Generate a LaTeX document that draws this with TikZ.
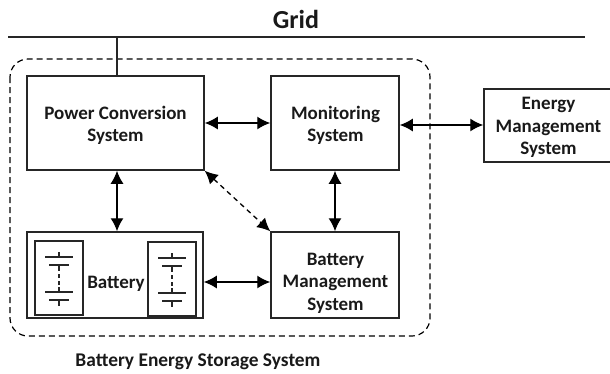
\documentclass[tikz,border=0pt]{standalone}
\usepackage{fontspec}
\setmainfont{Carlito}
\usetikzlibrary{arrows.meta}
\tikzset{
  x=1pt,y=-1pt,
  lbl/.style={font=\fontsize{19}{22.5}\selectfont\bfseries,align=center,inner sep=0pt,text=black!90},
  block/.style={draw=black!85,line width=1.5pt,minimum width=0pt,inner sep=0pt},
  link/.style={line width=1.3pt,{Latex[length=13pt,width=13pt]}-{Latex[length=13pt,width=13pt]}},
  cell/.style={line width=1.1pt,black!85},
}
\newcommand{\cellstack}[2]{%
  \begin{scope}[shift={(#1,#2)}]
    \draw[cell] (-14,16)--(14,16) (-10,24)--(10,24) (0,11)--(0,16) (0,24)--(0,30);
    \draw[cell,dash pattern=on 4pt off 3pt] (0,33)--(0,45);
    \draw[cell] (-14,51)--(14,51) (-10,59)--(10,59) (0,46)--(0,51) (0,59)--(0,65);
  \end{scope}}
\begin{document}
\begin{tikzpicture}
\useasboundingbox (0,0) rectangle (610,373);
\node[lbl,font=\fontsize{26}{30}\selectfont\bfseries] (grid) at (296,19.5) {Grid};
\coordinate (gl) at (8,37); \coordinate (gr) at (585,37); \coordinate (gt) at (117,37);
\draw[line width=1.5pt,black!85] (gl)--(gr);
\draw[rounded corners=18pt,line width=1.2pt,dash pattern=on 6pt off 4pt] (10,59) rectangle (430,336);
\node[block,minimum width=177pt,minimum height=94pt] (pcs) at (115.5,123) {};
\node[lbl] at (115.5,125.5) {Power Conversion\\System};
\node[block,minimum width=128pt,minimum height=94pt] (mon) at (335,123) {};
\node[lbl] at (335.5,125.5) {Monitoring\\System};
\begin{scope}
\clip (470,80) rectangle (610,170);
\node[block,minimum width=134pt,minimum height=73pt] (ems) at (551,125.5) {};
\end{scope}
\node[lbl] at (548.5,127.5) {Energy\\Management\\System};
\node[block,minimum width=176pt,minimum height=86pt] (bat) at (115,275) {};
\node[lbl] (batl) at (116,283.5) {Battery};
\node[block,line width=1.2pt,minimum width=48pt,minimum height=74pt] (c1) at (59,278) {};
\node[block,line width=1.2pt,minimum width=48pt,minimum height=74pt] (c2) at (172,279) {};
\cellstack{59}{241}
\cellstack{172}{242}
\node[block,minimum width=128pt,minimum height=86pt] (bms) at (335,275) {};
\node[lbl] at (335.5,283) {Battery\\Management\\System};
\node[lbl,font=\fontsize{19.4}{23}\selectfont\bfseries] (cap) at (198,362) {Battery Energy Storage System};
\draw[line width=1.2pt,black!85] (gt)--(pcs.north -| gt);
\draw[link] (pcs.east)--(mon.west);
\draw[link] (mon.east |- 0,125)--(ems.west |- 0,125);
\draw[link] (pcs.south -| gt)--(bat.north -| gt);
\draw[link] (mon.south)--(bms.north);
\draw[link] (bat.east |- 0,282)--(bms.west |- 0,282);
\draw[link,dash pattern=on 5pt off 4pt] (pcs.south east)--(bms.north west);
\end{tikzpicture}
\end{document}
